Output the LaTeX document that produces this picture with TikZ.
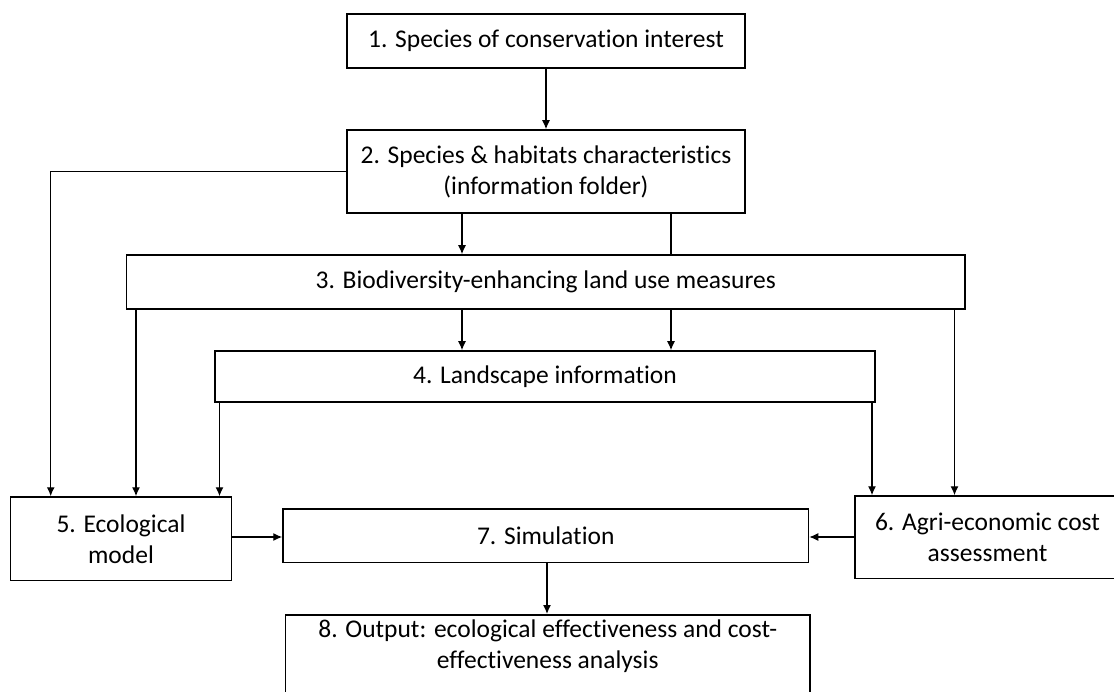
\documentclass[tikz,border=0pt]{standalone}
\usepackage{fontspec}
\setmainfont{Carlito}[Ligatures=NoCommon]
\usetikzlibrary{arrows.meta}

\begin{document}
\begin{tikzpicture}[x=1pt, y=-1pt,
        box/.style={rectangle, draw, line width=1.5pt, inner sep=0pt, align=center, font={\fontsize{25.5}{31}\selectfont}},
        wire/.style={line width=1.3pt},
        arr/.style={wire, -{Latex[length=9pt, width=8pt]}}]
        \clip (0, 0) rectangle (1114, 692);
        \node (1) at (546, 41) [box, minimum width=398, minimum height=54] {1. Species of conservation interest};
        \node (2) at (546, 171.5) [box, minimum width=398, minimum height=83] {2. Species \& habitats characteristics\\(information folder)};
        \node (3) at (545.75, 282) [box, minimum width=838.5, minimum height=54] {3. Biodiversity-enhancing land use measures};
        \node (4) at (545, 376.5) [box, minimum width=660, minimum height=51] {4. Landscape information};
        \node (5) at (121, 538.75) [box, minimum width=221, minimum height=83.5] {5. Ecological\\model};
        \node (6) at (987.5, 537.25) [box, minimum width=265, minimum height=82.5] {6. Agri-economic cost\\assessment};
        \node (7) at (545.75, 535.75) [box, minimum width=525.5, minimum height=53.5] {7. Simulation};
        \node (8) at (547.75, 614) [box, anchor=north, minimum width=524.5, inner ysep=6, text height=48, text depth=31] {8. Output: ecological effectiveness and cost-\\effectiveness analysis};
        % columns of the connectors
        \coordinate (c1) at (50.7, 0);
        \coordinate (c2) at (136, 0);
        \coordinate (c3) at (219.5, 0);
        \coordinate (c4) at (462, 0);
        \coordinate (c5) at (671, 0);
        \coordinate (c6) at (872, 0);
        \coordinate (c7) at (954.5, 0);
        \coordinate (c8) at (547, 0);
        \coordinate (r) at (0, 537);
        \draw [arr] (1) -- (2);
        \draw [arr] (2.west) -| (5.north -| c1);
        \draw [arr] (2.south -| c4) -- (3.north -| c4);
        \draw [wire] (2.south -| c5) -- (3.north -| c5);
        \draw [arr] (3.south -| c2) -- (5.north -| c2);
        \draw [arr] (3.south -| c4) -- (4.north -| c4);
        \draw [arr] (3.south -| c5) -- (4.north -| c5);
        \draw [arr] (3.south -| c7) -- (6.north -| c7);
        \draw [arr] (4.south -| c3) -- (5.north -| c3);
        \draw [arr] (4.south -| c6) -- (6.north -| c6);
        \draw [arr] (5.east |- r) -- (7.west |- r);
        \draw [arr] (6.west |- r) -- (7.east |- r);
        \draw [arr] (7.south -| c8) -- (8.north -| c8);
    \end{tikzpicture}
\end{document}
